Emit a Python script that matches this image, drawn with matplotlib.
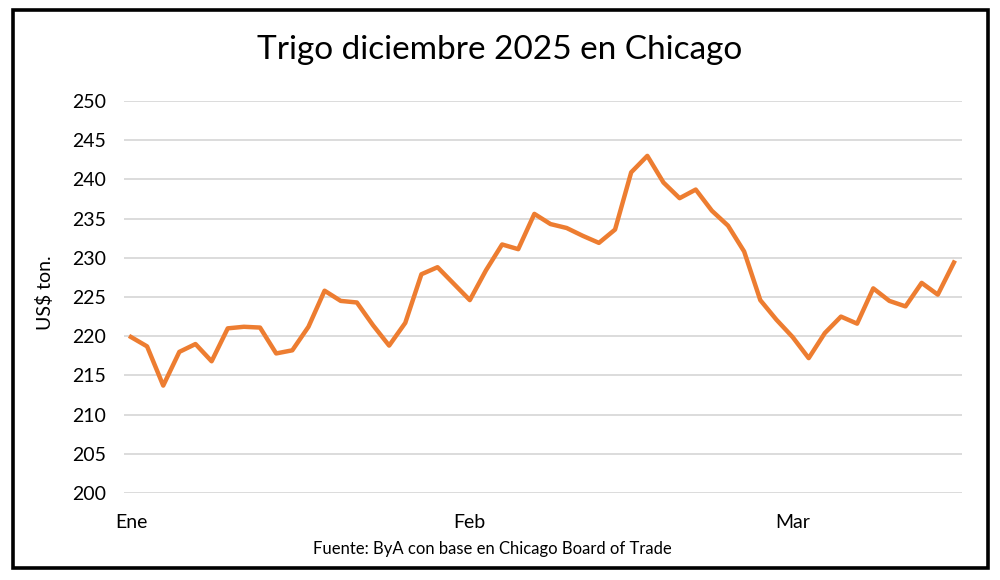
import matplotlib
matplotlib.use("Agg")
import matplotlib.pyplot as plt
from matplotlib.patches import Rectangle

plt.rcParams['font.family'] = ['Lato', 'DejaVu Sans']

title = "Trigo diciembre 2025 en Chicago"
ylabel = "US$ ton."
source = "Fuente: ByA con base en Chicago Board of Trade"

prices = [219.9, 218.7, 213.7, 218.0, 219.0, 216.8, 221.0, 221.2, 221.1, 217.8,
          218.2, 221.2, 225.8, 224.5, 224.3, 221.4, 218.8, 221.7, 227.9, 228.8,
          226.7, 224.6, 228.4, 231.7, 231.1, 235.6, 234.3, 233.8, 232.8, 231.9,
          233.6, 240.9, 243.0, 239.6, 237.6, 238.7, 236.0, 234.1, 230.8, 224.6,
          222.1, 219.9, 217.2, 220.4, 222.5, 221.6, 226.1, 224.5, 223.8, 226.8,
          225.3, 229.4]
month_labels = ["Ene", "Feb", "Mar"]
month_idx = [0, 21, 41]
yticks = list(range(200, 251, 5))

fig = plt.figure(figsize=(10, 5.8), dpi=100)
fig.patch.set_facecolor("white")

ax = fig.add_axes([0.124, 0.15, 0.838, 0.6759])
x = list(range(len(prices)))
ax.plot(x, prices, color="#ED7D31", linewidth=3.2, solid_joinstyle="round", zorder=3)

ax.set_ylim(200, 250)
ax.set_xlim(-0.43, 51.5)
ax.set_yticks(yticks)
ax.set_xticks(month_idx)
ax.set_xticklabels(month_labels)
ax.grid(axis="y", color="#D9D9D9", linewidth=1.3)
ax.set_axisbelow(True)
for s in ax.spines.values():
    s.set_visible(False)
ax.tick_params(axis="both", length=0, labelsize=14, colors="black")
ax.tick_params(axis="y", pad=13)
ax.tick_params(axis="x", pad=15)

fig.text(0.5, 0.913, title, ha="center", va="center", fontsize=24, color="black")
fig.text(0.045, 0.495, ylabel, ha="center", va="center", rotation=90, fontsize=14, color="black")
fig.text(0.492, 0.053, source, ha="center", va="center", fontsize=12, color="black")

fig.patches.append(Rectangle((0.013, 0.02), 0.975, 0.963, transform=fig.transFigure,
                             fill=False, edgecolor="black", linewidth=2.6))

fig.savefig("out.png", dpi=100, facecolor="white")
